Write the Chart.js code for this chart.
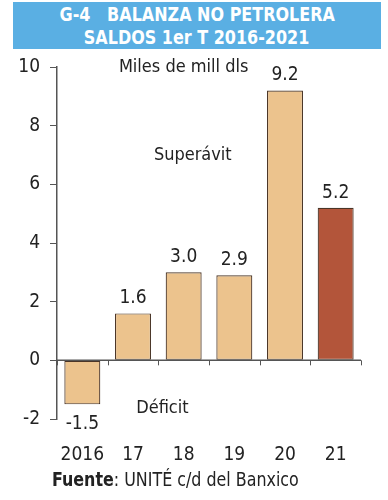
<!DOCTYPE html>
<html><head><meta charset="utf-8">
<script src="https://cdn.jsdelivr.net/npm/chart.js@4/dist/chart.umd.min.js"></script>
<style>
html,body{margin:0;padding:0;background:#fff;}
#wrap{position:relative;width:388px;height:500px;overflow:hidden;background:#fff;}
#title{position:absolute;left:13px;top:2px;width:368px;height:47px;background:#5aafe3;color:#fff;
  font-family:'DejaVu Sans Condensed','Liberation Sans Narrow',Roboto,sans-serif;font-weight:bold;font-size:19px;
  text-align:center;line-height:23px;padding-top:1px;box-sizing:border-box;}
#title span{display:inline-block;transform:scaleX(0.935);transform-origin:center;white-space:nowrap;}
#src{position:absolute;left:52px;top:468px;font-family:'DejaVu Sans Condensed','Liberation Sans Narrow',Roboto,sans-serif;font-size:19px;color:#222;white-space:nowrap;transform:scaleX(0.93);transform-origin:left center;}
#c{position:absolute;left:0;top:0;}
</style></head>
<body><div id="wrap">
<canvas id="c" width="388" height="500"></canvas>
<div id="title"><span>G-4&nbsp;&nbsp; BALANZA NO PETROLERA</span><br><span>SALDOS 1er T 2016-2021</span></div>
<div id="src"><b>Fuente</b>: UNITÉ c/d del Banxico</div>
</div>
<script>
const categories = ['2016', '17', '18', '19', '20', '21'];
const values = [-1.5, 1.6, 3.0, 2.9, 9.2, 5.2];
const valueLabels = ['-1.5', '1.6', '3.0', '2.9', '9.2', '5.2'];
const yTickValues = [-2, 0, 2, 4, 6, 8, 10];
const unitNote = 'Miles de mill dls';
const surplusNote = 'Superávit';
const deficitNote = 'Déficit';

const FONT = "'DejaVu Sans Condensed','Liberation Sans Narrow',Roboto,sans-serif";
const LIGHT = '#ecc38d', DARK = '#b3553a', EDGE = '#4a3527', INK = '#222222', AXIS = '#555555';
const barColors = values.map((v, i) => i === values.length - 1 ? DARK : LIGHT);

const overlay = {
  id: 'overlay',
  afterDatasetsDraw(chart) {
    const ctx = chart.ctx, xs = chart.scales.x, ys = chart.scales.y, a = chart.chartArea;
    const y0 = ys.getPixelForValue(0);
    ctx.save();
    // zero axis line with category-boundary ticks
    ctx.strokeStyle = AXIS; ctx.lineWidth = 1.5;
    ctx.beginPath(); ctx.moveTo(a.left, y0); ctx.lineTo(a.right, y0); ctx.stroke();
    ctx.lineWidth = 1;
    for (let i = 0; i <= categories.length; i++) {
      const px = Math.round(xs.getPixelForValue(i - 0.5)) + 0.5;
      ctx.beginPath(); ctx.moveTo(px, y0); ctx.lineTo(px, y0 + 5); ctx.stroke();
    }
    // value labels
    ctx.fillStyle = INK; ctx.font = '19px ' + FONT; ctx.textAlign = 'center'; ctx.textBaseline = 'middle';
    const meta = chart.getDatasetMeta(0);
    meta.data.forEach((bar, i) => {
      const v = values[i];
      ctx.fillText(valueLabels[i], bar.x, v >= 0 ? bar.y - 15 : bar.y + 20);
    });
    // notes
    ctx.font = '18px ' + FONT;
    ctx.fillText(unitNote, xs.getPixelForValue(2), ys.getPixelForValue(10.0));
    ctx.fillText(surplusNote, xs.getPixelForValue(2.18), ys.getPixelForValue(7.0));
    ctx.fillText(deficitNote, xs.getPixelForValue(1.58), ys.getPixelForValue(-1.62));
    ctx.restore();
  }
};

new Chart(document.getElementById('c'), {
  type: 'bar',
  data: {
    labels: categories,
    datasets: [{
      data: values,
      backgroundColor: barColors,
      borderColor: EDGE,
      borderWidth: 1.2,
      borderSkipped: false,
      barPercentage: 0.71,
      categoryPercentage: 1
    }]
  },
  options: {
    responsive: false,
    animation: false,
    devicePixelRatio: 1,
    layout: { padding: { left: 0, top: 67, right: 27, bottom: 31 } },
    plugins: { legend: { display: false }, tooltip: { enabled: false }, title: { display: false } },
    scales: {
      x: {
        grid: { display: false, drawTicks: false },
        border: { display: false },
        ticks: { color: INK, font: { family: FONT, size: 19 }, padding: 25, maxRotation: 0 },
        afterFit(s) { s.height = 50; }
      },
      y: {
        min: -2, max: 10,
        afterBuildTicks(s) { s.ticks = yTickValues.map(v => ({ value: v })); },
        grid: { drawOnChartArea: false, drawTicks: true, tickLength: 7, color: AXIS, lineWidth: 1 },
        border: { display: true, color: AXIS, width: 1.5 },
        ticks: { color: INK, font: { family: FONT, size: 19 }, padding: 10 },
        afterFit(s) { s.width = 57; }
      }
    }
  },
  plugins: [overlay]
});
</script>
</body></html>
